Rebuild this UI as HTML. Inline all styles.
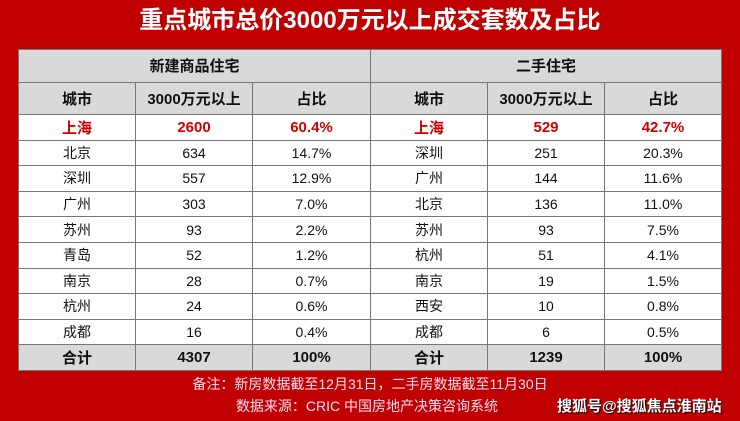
<!DOCTYPE html>
<html><head><meta charset="utf-8"><style>
body{margin:0;width:740px;height:421px;background:#c00000;overflow:hidden;font-family:"Liberation Sans","Noto Sans CJK SC",sans-serif;position:relative}
.t{position:absolute;top:4px;left:0;width:740px;text-align:center;color:#fff;font-size:24px;font-weight:bold;line-height:34px}
table{position:absolute;left:18px;top:49px;border-collapse:collapse;background:#fff;font-size:14px;color:#111}
td{border:1px solid #777;text-align:center;padding:0;height:24.6px}
.g td{background:#d9d9d9;font-weight:bold;font-size:15px}
.h td{height:31.5px}
.r td{color:#d00000;font-weight:bold;font-size:15px}
.f{position:absolute;left:0;width:740px;text-align:center;color:#fde;font-size:14px}
.s{position:absolute;left:557px;top:395px;color:#fff;font-weight:bold;font-size:15px;text-shadow:1px 1px 1px #000}
</style></head><body>
<div class="t">重点城市总价3000万元以上成交套数及占比</div>
<table>
<colgroup><col style="width:117px"><col style="width:117px"><col style="width:118px"><col style="width:117px"><col style="width:117px"><col style="width:117px"></colgroup>
<tr class="g h"><td colspan="3">新建商品住宅</td><td colspan="3">二手住宅</td></tr>
<tr class="g h"><td>城市</td><td>3000万元以上</td><td>占比</td><td>城市</td><td>3000万元以上</td><td>占比</td></tr>
<tr class="r"><td>上海</td><td>2600</td><td>60.4%</td><td>上海</td><td>529</td><td>42.7%</td></tr>
<tr><td>北京</td><td>634</td><td>14.7%</td><td>深圳</td><td>251</td><td>20.3%</td></tr>
<tr><td>深圳</td><td>557</td><td>12.9%</td><td>广州</td><td>144</td><td>11.6%</td></tr>
<tr><td>广州</td><td>303</td><td>7.0%</td><td>北京</td><td>136</td><td>11.0%</td></tr>
<tr><td>苏州</td><td>93</td><td>2.2%</td><td>苏州</td><td>93</td><td>7.5%</td></tr>
<tr><td>青岛</td><td>52</td><td>1.2%</td><td>杭州</td><td>51</td><td>4.1%</td></tr>
<tr><td>南京</td><td>28</td><td>0.7%</td><td>南京</td><td>19</td><td>1.5%</td></tr>
<tr><td>杭州</td><td>24</td><td>0.6%</td><td>西安</td><td>10</td><td>0.8%</td></tr>
<tr><td>成都</td><td>16</td><td>0.4%</td><td>成都</td><td>6</td><td>0.5%</td></tr>
<tr class="g"><td>合计</td><td>4307</td><td>100%</td><td>合计</td><td>1239</td><td>100%</td></tr>
</table>
<div class="f" style="top:374px">备注：新房数据截至12月31日，二手房数据截至11月30日</div>
<div class="f" style="top:396px;left:-3px">数据来源：CRIC 中国房地产决策咨询系统</div>
<div class="s">搜狐号@搜狐焦点淮南站</div>
</body></html>
